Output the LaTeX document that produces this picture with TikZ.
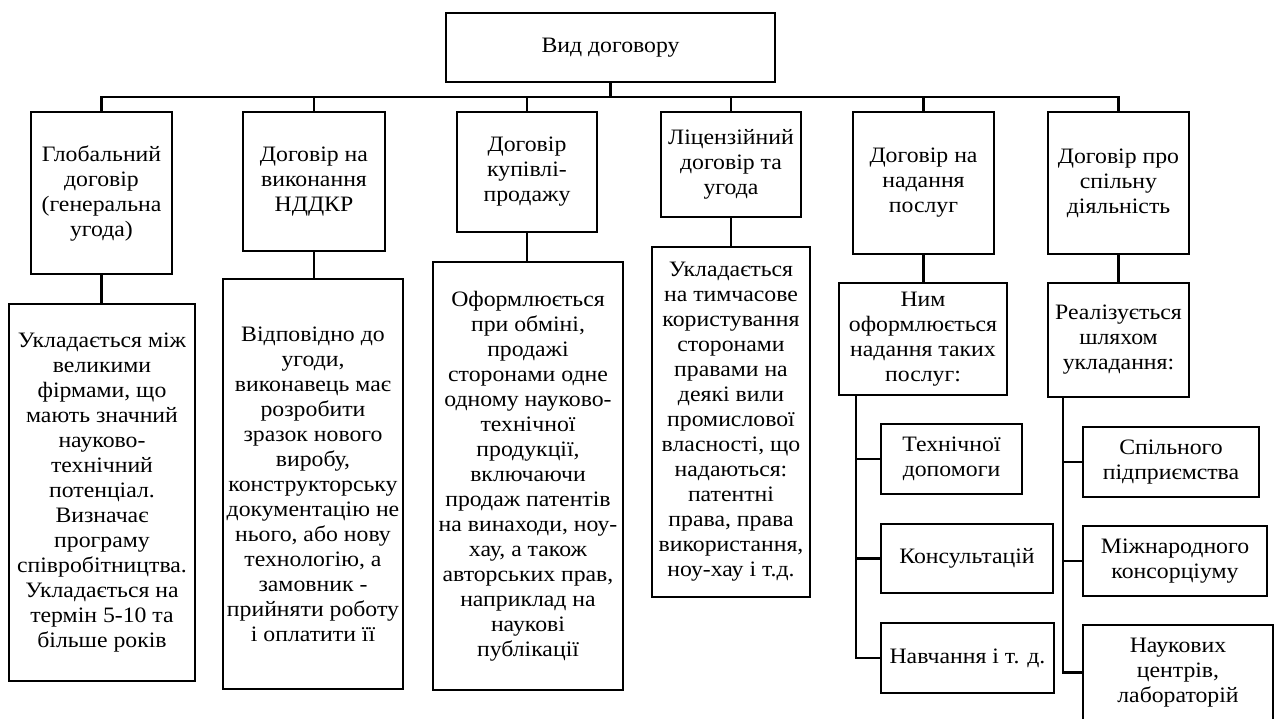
\documentclass[tikz,border=0pt]{standalone}
\usepackage{fontspec}
\setmainfont[FakeStretch=1.08]{Liberation Serif}
\begin{document}
\begin{tikzpicture}[x=1pt,y=-1pt]
  \tikzstyle{BoxStyle}=[draw,line width=2.6pt,inner sep=0pt,outer sep=0pt,align=center,font=\fontsize{22}{25}\selectfont]
  \tikzstyle{EdgeStyle}=[line width=2.6pt]
  \useasboundingbox (0,0) rectangle (1281,718);
  \clip (0,0) rectangle (1281,718);
  % top
  \node[BoxStyle,minimum width=329,minimum height=69] (t) at (610.5,47.5) {Вид договору};
  % kinds
  \node[BoxStyle,anchor=north,minimum width=141,minimum height=162] (a1) at (101.5,112) {Глобальний\\договір\\(генеральна\\угода)};
  \node[BoxStyle,anchor=north,minimum width=142,minimum height=139] (a2) at (314,112) {Договір на\\виконання\\НДДКР};
  \node[BoxStyle,anchor=north,minimum width=140,minimum height=120] (a3) at (527,112) {Договір\\купівлі-\\продажу};
  \node[BoxStyle,anchor=north,minimum width=140,minimum height=105] (a4) at (731,112) {Ліцензійний\\договір та\\угода};
  \node[BoxStyle,anchor=north,minimum width=141,minimum height=142] (a5) at (923.5,112) {Договір на\\надання\\послуг};
  \node[BoxStyle,anchor=north,minimum width=141,minimum height=142] (a6) at (1118.5,112) {Договір про\\спільну\\діяльність};
  % descriptions
  \node[BoxStyle,anchor=north,minimum width=186,minimum height=377] (b1) at (102,304) {Укладається між\\великими\\фірмами, що\\мають значний\\науково-\\технічний\\потенціал.\\Визначає\\програму\\співробітництва.\\Укладається на\\термін 5-10 та\\більше років};
  \node[BoxStyle,anchor=north,minimum width=180,minimum height=410] (b2) at (313,279) {Відповідно до\\угоди,\\виконавець має\\розробити\\зразок нового\\виробу,\\конструкторську\\документацію не\\нього, або нову\\технологію, а\\замовник -\\прийняти роботу\\і оплатити її};
  \node[BoxStyle,anchor=north,minimum width=190,minimum height=428] (b3) at (528,262) {Оформлюється\\при обміні,\\продажі\\сторонами одне\\одному науково-\\технічної\\продукції,\\включаючи\\продаж патентів\\на винаходи, ноу-\\хау, а також\\авторських прав,\\наприклад на\\наукові\\публікації};
  \node[BoxStyle,anchor=north,minimum width=158,minimum height=350] (b4) at (731,247) {Укладається\\на тимчасове\\користування\\сторонами\\правами на\\деякі вили\\промислової\\власності, що\\надаються:\\патентні\\права, права\\використання,\\ноу-хау і т.д.};
  \node[BoxStyle,anchor=north,minimum width=168,minimum height=112] (b5) at (923,283) {Ним\\оформлюється\\надання таких\\послуг:};
  \node[BoxStyle,anchor=north,minimum width=141,minimum height=114] (b6) at (1118.5,283) {Реалізується\\шляхом\\укладання:};
  % services
  \node[BoxStyle,anchor=north west,minimum width=141,minimum height=70] (c1) at (881,424) {Технічної\\допомоги};
  \node[BoxStyle,anchor=north west,minimum width=172,minimum height=69] (c2) at (881,524) {Консультацій};
  \node[BoxStyle,anchor=north west,minimum width=173,minimum height=70] (c3) at (881,623) {Навчання і т. д.};
  % forms
  \node[BoxStyle,anchor=north west,minimum width=176,minimum height=70] (d1) at (1083,427) {Спільного\\підприємства};
  \node[BoxStyle,anchor=north west,minimum width=184,minimum height=70] (d2) at (1083,526) {Міжнародного\\консорціуму};
  \node[BoxStyle,anchor=north west,minimum width=190,minimum height=95] (d3) at (1083,625) {Наукових\\центрів,\\лабораторій};
  % edges
  \foreach \i in {1,...,6} {
    \draw[EdgeStyle] (t.south) -- ++(0,15) -| (a\i.north);
    \draw[EdgeStyle] (a\i.south) -- (a\i.south |- b\i.north);
  }
  \foreach \i in {1,2,3} {
    \draw[EdgeStyle] ([xshift=17pt]b5.south west) |- (c\i.west);
    \draw[EdgeStyle] ([xshift=15pt]b6.south west) |- (d\i.west);
  }
\end{tikzpicture}
\end{document}
